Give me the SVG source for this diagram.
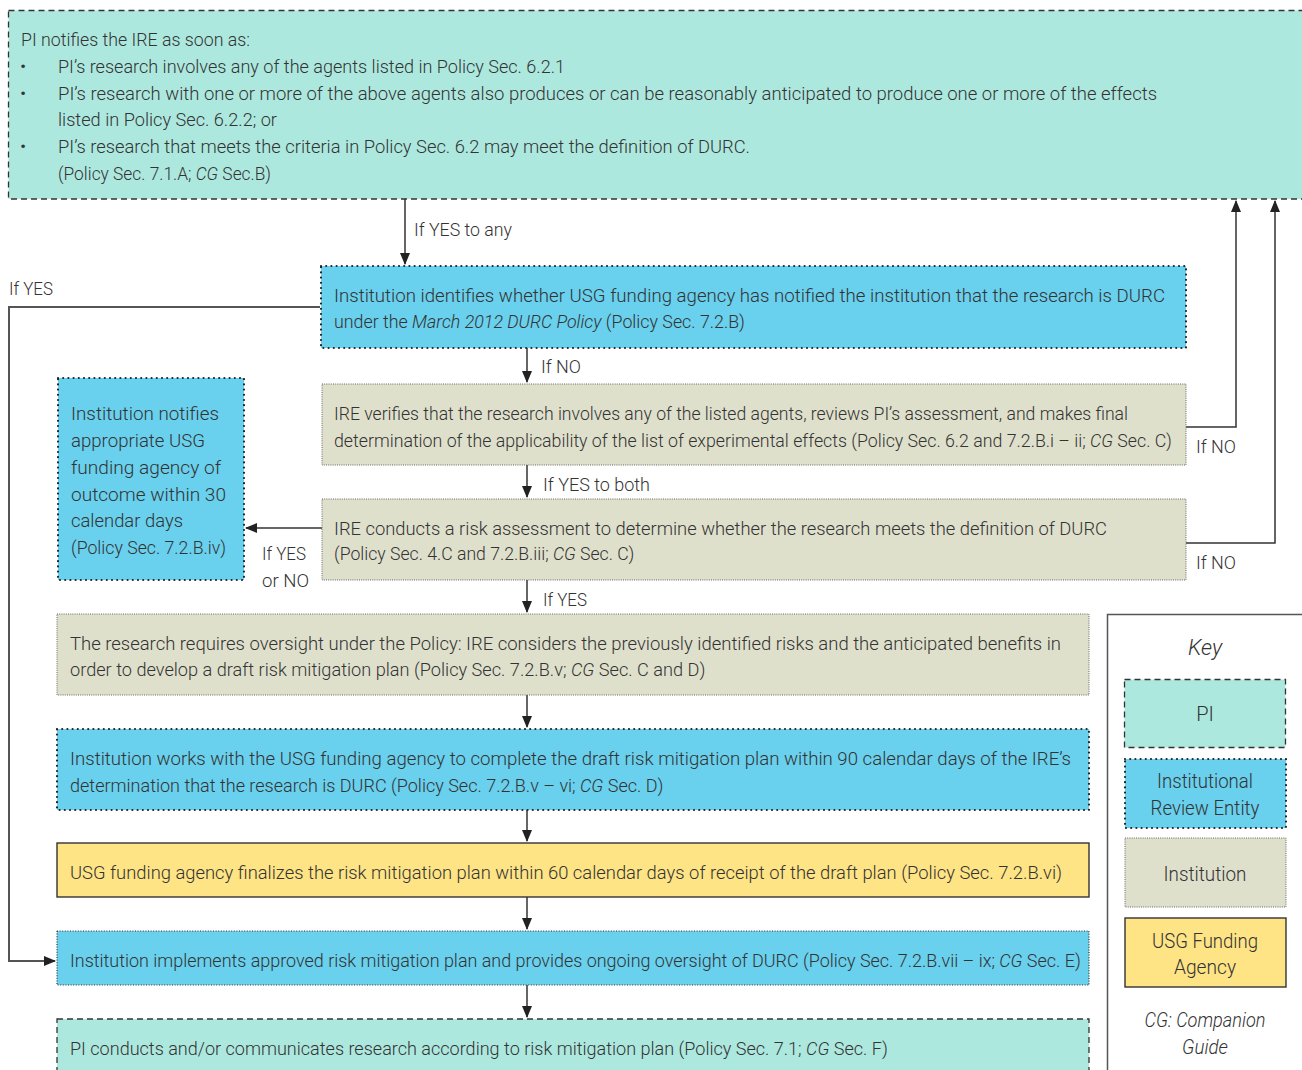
<svg xmlns="http://www.w3.org/2000/svg" width="1302" height="1070" viewBox="0 0 1302 1070">
<defs>
<marker id="ah" markerWidth="12" markerHeight="18" refX="11" refY="6" orient="auto" markerUnits="userSpaceOnUse" viewBox="0 0 12 12">
<path d="M0,1 L12,6 L0,11 Z" fill="#222"/>
</marker>
<style>
text{font-family:Roboto,"Liberation Sans",Arial,sans-serif;font-weight:300;font-size:19px;fill:#333;}
.lg{font-size:20px;}
.it{font-style:italic;}
.pi{fill:#ade8df;stroke:#333;stroke-width:1.3;stroke-dasharray:6 4;}
.ire{fill:#69d0ed;stroke:#222;stroke-width:2.2;stroke-dasharray:0 5.2;stroke-linecap:round;}
.ins{fill:#dfe0cc;stroke:#666;stroke-width:1;stroke-dasharray:1 1.2;}
.ire2{fill:#69d0ed;stroke:#333;stroke-width:1.2;stroke-dasharray:1 1.6;}
.usg{fill:#fee485;stroke:#333;stroke-width:1.4;}
.c{fill:none;stroke:#333;stroke-width:1.5;}
.c2{fill:none;stroke:#555;stroke-width:2;}
</style>
</defs>
<rect width="1302" height="1070" fill="#fff"/>

<g id="connectors">
<path class="c" d="M405,199 V264" marker-end="url(#ah)"/>
<path class="c" d="M527,348 V382" marker-end="url(#ah)"/>
<path class="c" d="M527,465 V497" marker-end="url(#ah)"/>
<path class="c" d="M527,580 V612" marker-end="url(#ah)"/>
<path class="c" d="M527,695 V727" marker-end="url(#ah)"/>
<path class="c" d="M527,810 V841" marker-end="url(#ah)"/>
<path class="c" d="M527,897 V929" marker-end="url(#ah)"/>
<path class="c" d="M527,985 V1017" marker-end="url(#ah)"/>
<path class="c" d="M1186,427 H1236 V201" marker-end="url(#ah)"/>
<path class="c" d="M1186,543 H1275 V201" marker-end="url(#ah)"/>
<path class="c" d="M322,528 H246" marker-end="url(#ah)"/>
<path class="c2" d="M320,307 H9 V961 H55" marker-end="url(#ah)"/>
<text x="414" y="236" textLength="98" lengthAdjust="spacingAndGlyphs">If YES to any</text>
<text x="9" y="295" textLength="44" lengthAdjust="spacingAndGlyphs">If YES</text>
<text x="541" y="373" textLength="40" lengthAdjust="spacingAndGlyphs">If NO</text>
<text x="1196" y="453" textLength="40" lengthAdjust="spacingAndGlyphs">If NO</text>
<text x="543" y="491" textLength="107" lengthAdjust="spacingAndGlyphs">If YES to both</text>
<text x="1196" y="569" textLength="40" lengthAdjust="spacingAndGlyphs">If NO</text>
<text x="262" y="560" textLength="44" lengthAdjust="spacingAndGlyphs">If YES</text>
<text x="262" y="587" textLength="47" lengthAdjust="spacingAndGlyphs">or NO</text>
<text x="543" y="606" textLength="44" lengthAdjust="spacingAndGlyphs">If YES</text>
</g>

<g id="n1">
<rect class="pi" x="8.5" y="10.5" width="1310" height="188.5"/>
<text x="21" y="46" textLength="229" lengthAdjust="spacingAndGlyphs">PI notifies the IRE as soon as:</text>
<text x="20" y="73">•</text>
<text x="58" y="73" textLength="507" lengthAdjust="spacingAndGlyphs">PI’s research involves any of the agents listed in Policy Sec. 6.2.1</text>
<text x="20" y="100">•</text>
<text x="58" y="100" textLength="1099" lengthAdjust="spacingAndGlyphs">PI’s research with one or more of the above agents also produces or can be reasonably anticipated to produce one or more of the effects</text>
<text x="58" y="126" textLength="219" lengthAdjust="spacingAndGlyphs">listed in Policy Sec. 6.2.2; or</text>
<text x="20" y="153">•</text>
<text x="58" y="153" textLength="692" lengthAdjust="spacingAndGlyphs">PI’s research that meets the criteria in Policy Sec. 6.2 may meet the definition of DURC.</text>
<text transform="translate(58,180) scale(0.914,1)">(Policy Sec. 7.1.A; <tspan class="it">CG</tspan> Sec.B)</text>
</g>

<g id="n2">
<rect class="ire" x="321" y="266" width="865" height="82"/>
<text x="334" y="302" textLength="831" lengthAdjust="spacingAndGlyphs">Institution identifies whether USG funding agency has notified the institution that the research is DURC</text>
<text transform="translate(334,328) scale(0.938,1)">under the <tspan class="it">March 2012 DURC Policy</tspan> (Policy Sec. 7.2.B)</text>
</g>

<g id="n3">
<rect class="ins" x="322" y="384" width="864" height="81"/>
<text x="334" y="420" textLength="794" lengthAdjust="spacingAndGlyphs">IRE verifies that the research involves any of the listed agents, reviews PI’s assessment, and makes final</text>
<text transform="translate(334,447) scale(0.935,1)">determination of the applicability of the list of experimental effects (Policy Sec. 6.2 and 7.2.B.i – ii; <tspan class="it">CG</tspan> Sec. C)</text>
</g>

<g id="n4">
<rect class="ins" x="322" y="499" width="864" height="81"/>
<text x="334" y="535" textLength="773" lengthAdjust="spacingAndGlyphs">IRE conducts a risk assessment to determine whether the research meets the definition of DURC</text>
<text transform="translate(334,560) scale(0.929,1)">(Policy Sec. 4.C and 7.2.B.iii; <tspan class="it">CG</tspan> Sec. C)</text>
</g>

<g id="n5">
<rect class="ire" x="58" y="378" width="186" height="202"/>
<text x="71" y="420" textLength="148" lengthAdjust="spacingAndGlyphs">Institution notifies</text>
<text x="71" y="447" textLength="134" lengthAdjust="spacingAndGlyphs">appropriate USG</text>
<text x="71" y="474" textLength="150" lengthAdjust="spacingAndGlyphs">funding agency of</text>
<text x="71" y="501" textLength="155" lengthAdjust="spacingAndGlyphs">outcome within 30</text>
<text x="71" y="527" textLength="112" lengthAdjust="spacingAndGlyphs">calendar days</text>
<text x="71" y="554" textLength="155" lengthAdjust="spacingAndGlyphs">(Policy Sec. 7.2.B.iv)</text>
</g>

<g id="n6">
<rect class="ins" x="57" y="614" width="1032" height="81"/>
<text x="70" y="650" textLength="991" lengthAdjust="spacingAndGlyphs">The research requires oversight under the Policy: IRE considers the previously identified risks and the anticipated benefits in</text>
<text transform="translate(70,676) scale(0.956,1)">order to develop a draft risk mitigation plan (Policy Sec. 7.2.B.v; <tspan class="it">CG</tspan> Sec. C and D)</text>
</g>

<g id="n7">
<rect class="ire" x="57" y="729" width="1032" height="81"/>
<text x="70" y="765" textLength="1001" lengthAdjust="spacingAndGlyphs">Institution works with the USG funding agency to complete the draft risk mitigation plan within 90 calendar days of the IRE’s</text>
<text transform="translate(70,792) scale(0.949,1)">determination that the research is DURC (Policy Sec. 7.2.B.v – vi; <tspan class="it">CG</tspan> Sec. D)</text>
</g>

<g id="n8">
<rect class="usg" x="57" y="843" width="1032" height="54"/>
<text x="70" y="879" textLength="992" lengthAdjust="spacingAndGlyphs">USG funding agency finalizes the risk mitigation plan within 60 calendar days of receipt of the draft plan (Policy Sec. 7.2.B.vi)</text>
</g>

<g id="n9">
<rect class="ire2" x="57" y="931" width="1032" height="54"/>
<text transform="translate(70,967) scale(0.945,1)">Institution implements approved risk mitigation plan and provides ongoing oversight of DURC (Policy Sec. 7.2.B.vii – ix; <tspan class="it">CG</tspan> Sec. E)</text>
</g>

<g id="n10">
<rect class="pi" x="57" y="1019" width="1032" height="80"/>
<text transform="translate(70,1055) scale(0.95,1)">PI conducts and/or communicates research according to risk mitigation plan (Policy Sec. 7.1; <tspan class="it">CG</tspan> Sec. F)</text>
</g>

<g id="key">
<path d="M1107.5,1075 V614.5 H1305" fill="none" stroke="#555" stroke-width="1.5"/>
<text class="lg it" x="1205" y="655" text-anchor="middle" style="font-size:22px">Key</text>
<rect class="pi" x="1124.5" y="679.5" width="161" height="68"/>
<text class="lg" x="1205" y="721" text-anchor="middle">PI</text>
<rect class="ire" x="1125" y="759" width="161" height="69"/>
<text class="lg" x="1205" y="788" text-anchor="middle" textLength="96" lengthAdjust="spacingAndGlyphs">Institutional</text>
<text class="lg" x="1205" y="815" text-anchor="middle" textLength="109" lengthAdjust="spacingAndGlyphs">Review Entity</text>
<rect class="ins" x="1125" y="838" width="161" height="69"/>
<text class="lg" x="1205" y="881" text-anchor="middle" textLength="83" lengthAdjust="spacingAndGlyphs">Institution</text>
<rect class="usg" x="1125" y="918" width="161" height="69"/>
<text class="lg" x="1205" y="948" text-anchor="middle" textLength="106" lengthAdjust="spacingAndGlyphs">USG Funding</text>
<text class="lg" x="1205" y="974" text-anchor="middle" textLength="62" lengthAdjust="spacingAndGlyphs">Agency</text>
<text class="lg it" x="1205" y="1027" text-anchor="middle" textLength="121" lengthAdjust="spacingAndGlyphs">CG: Companion</text>
<text class="lg it" x="1205" y="1054" text-anchor="middle" textLength="46" lengthAdjust="spacingAndGlyphs">Guide</text>
</g>
</svg>
